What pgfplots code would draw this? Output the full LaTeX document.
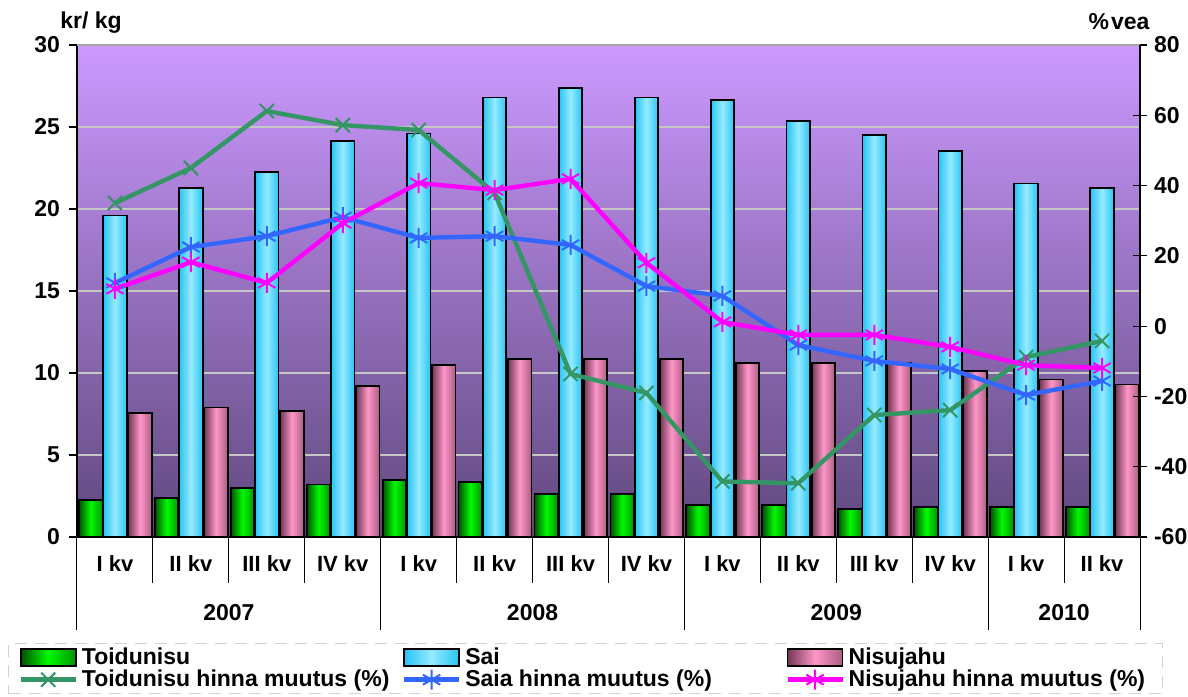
\documentclass[border=0pt]{standalone}
\usepackage{fontspec}
\setmainfont{Liberation Sans}
\usepackage{pgfplots}
\pgfplotsset{compat=1.18}
\definecolor{bgtop}{RGB}{204,153,255}
\definecolor{bgbot}{RGB}{95,72,125}
\definecolor{gdark}{RGB}{0,80,0}
\definecolor{gmid}{RGB}{0,250,0}
\definecolor{bedge}{RGB}{40,195,245}
\definecolor{bmid}{RGB}{150,235,255}
\definecolor{pedge}{RGB}{115,55,85}
\definecolor{pmid}{RGB}{255,150,200}
\definecolor{lgreen}{RGB}{51,150,100}
\definecolor{lblue}{RGB}{51,102,255}
\definecolor{lmag}{RGB}{255,0,255}
\pgfplotsset{
  barT/.style={draw=black, line width=0.9pt, left color=gdark, right color=gdark!60!gmid, middle color=gmid},
  barS/.style={draw=black, line width=0.9pt, left color=bedge, right color=bedge, middle color=bmid},
  barN/.style={draw=black, line width=0.9pt, left color=pedge, right color=pedge!60!pmid, middle color=pmid},
  barlegend/.style={legend image code/.code={\draw[##1] (0pt,-4.3pt) rectangle (27.5pt,4.3pt);}},
}
\pgfplotstableread{
x  T     S      N
0  2.26  19.6   7.56
1  2.40  21.3   7.90
2  3.00  22.25  7.70
3  3.20  24.15  9.20
4  3.48  24.6   10.5
5  3.35  26.8   10.85
6  2.64  27.4   10.85
7  2.64  26.8   10.85
8  1.93  26.65  10.6
9  1.93  25.35  10.6
10 1.69  24.5   10.6
11 1.81  23.55  10.1
12 1.81  21.55  9.6
13 1.81  21.3   9.3
}\bars
\pgfplotstableread{
x  T      S      N
0  35.0   12.3   10.6
1  45.0   22.5   18.2
2  61.2   25.6   12.3
3  57.2   31.0   29.3
4  55.8   25.1   40.7
5  37.9   25.6   38.7
6  -13.6  23.1   41.9
7  -19.0  11.4   18.0
8  -44.2  8.6    1.2
9  -44.7  -5.4   -2.5
10 -25.3  -9.9   -2.5
11 -23.9  -12.2  -5.9
12 -8.8   -19.6  -11.1
13 -4.2   -15.6  -11.9
}\lines
\begin{document}
\begin{tikzpicture}
\path[use as bounding box] (0,0) rectangle (594pt,348pt);
\begin{axis}[
  at={(38.5pt,79.5pt)}, anchor=south west,
  scale only axis, width=531.5pt, height=246pt,
  xmin=-0.5, xmax=13.5, ymin=0, ymax=30,
  ytick={0,5,...,30},
  axis lines*=left,
  axis line style={black, line width=0.6pt},
  xtick={0,...,13},
  xticklabels={I kv,II kv,III kv,IV kv,I kv,II kv,III kv,IV kv,I kv,II kv,III kv,IV kv,I kv,II kv},
  xtick style={draw=none},
  xticklabel style={anchor=center, yshift=-9.5pt, font=\bfseries\fontsize{11}{12}\selectfont},
  ytick style={black, line width=0.6pt},
  major tick length=4pt,
  tick align=outside,
  yticklabel style={font=\bfseries\fontsize{11.5}{13}\selectfont, xshift=-1pt},
  /pgf/number format/assume math mode=true,
  ymajorgrids, grid style={draw=gray!45!white, line width=0.6pt},
  axis background/.style={shade, top color=bgtop, bottom color=bgbot},
  ybar, bar width=0.31,
  clip=false,
]
\pgfplotsinvokeforeach{0,...,13}{
  \addplot[barT, bar shift=-0.32, restrict x to domain=#1:#1] table[x=x,y=T] {\bars};
  \addplot[barS, bar shift=0, restrict x to domain=#1:#1] table[x=x,y=S] {\bars};
  \addplot[barN, bar shift=0.33, restrict x to domain=#1:#1] table[x=x,y=N] {\bars};
}
\pgfplotsinvokeforeach{0.5,1.5,2.5,4.5,5.5,6.5,8.5,9.5,10.5,12.5}{
  \draw[black, line width=0.5pt] (axis cs:#1,0) -- ++(0pt,-23pt);
}
\pgfplotsinvokeforeach{-0.5,3.5,7.5,11.5,13.5}{
  \draw[black, line width=0.5pt] (axis cs:#1,0) -- ++(0pt,-46.5pt);
}
\node[font=\bfseries\fontsize{11.5}{13}\selectfont] at ([yshift=-38pt]axis cs:1.5,0) {2007};
\node[font=\bfseries\fontsize{11.5}{13}\selectfont] at ([yshift=-38pt]axis cs:5.5,0) {2008};
\node[font=\bfseries\fontsize{11.5}{13}\selectfont] at ([yshift=-38pt]axis cs:9.5,0) {2009};
\node[font=\bfseries\fontsize{11.5}{13}\selectfont] at ([yshift=-38pt]axis cs:12.5,0) {2010};
\end{axis}
\begin{axis}[
  at={(38.5pt,79.5pt)}, anchor=south west,
  scale only axis, width=531.5pt, height=246pt,
  xmin=-0.5, xmax=13.5, ymin=-60, ymax=80,
  ytick={-60,-40,...,80},
  axis y line*=right, axis x line*=top,
  xtick=\empty,
  x axis line style={draw=gray!70, line width=0.8pt},
  y axis line style={black, line width=0.6pt},
  ytick style={black, line width=0.6pt},
  major tick length=7pt,
  tick align=center,
  yticklabel style={font=\bfseries\fontsize{11.5}{13}\selectfont, xshift=0pt},
  /pgf/number format/assume math mode=true,
  clip=false,
  legend columns=3,
  legend cell align=left,
  legend style={at={(-0.065,-0.2155)}, anchor=north west,
    draw=gray!35, line width=0.6pt, dash pattern=on 6pt off 4pt,
    inner xsep=5pt, inner ysep=2pt,
    font=\bfseries\fontsize{11.5}{12}\selectfont,
    nodes={inner xsep=2pt, inner ysep=0pt, solid},
    /tikz/column sep=0pt, /tikz/row sep=1.2pt},
  legend image code/.code={\draw[mark repeat=2,mark phase=2,#1] plot coordinates {(0pt,0pt) (13.75pt,0pt) (27.5pt,0pt)};},
]
\addlegendimage{barT, barlegend}
\addlegendentry{\makebox[158pt][l]{Toidunisu}}
\addlegendimage{barS, barlegend}
\addlegendentry{\makebox[158pt][l]{Sai}}
\addlegendimage{barN, barlegend}
\addlegendentry{\makebox[150pt][l]{Nisujahu}}
\addplot[lgreen, line width=2.2pt, mark=x, mark size=5pt, mark options={line width=1pt, solid}] table[x=x,y=T] {\lines};
\addlegendentry{\makebox[158pt][l]{Toidunisu hinna muutus (\%)}}
\addplot[lblue, line width=2.2pt, mark=asterisk, mark size=5pt, mark options={line width=1pt, solid}] table[x=x,y=S] {\lines};
\addlegendentry{\makebox[158pt][l]{Saia hinna muutus (\%)}}
\addplot[lmag, line width=2.2pt, mark=asterisk, mark size=5pt, mark options={line width=1pt, solid}] table[x=x,y=N] {\lines};
\addlegendentry{\makebox[150pt][l]{Nisujahu hinna muutus (\%)}}
\end{axis}
\node[font=\bfseries\fontsize{11.5}{13}\selectfont] at (45.5pt,336.5pt) {kr/ kg};
\node[font=\bfseries\fontsize{11.5}{13}\selectfont] at (559.5pt,337pt) {\%\kern1pt vea};
\end{tikzpicture}
\end{document}
